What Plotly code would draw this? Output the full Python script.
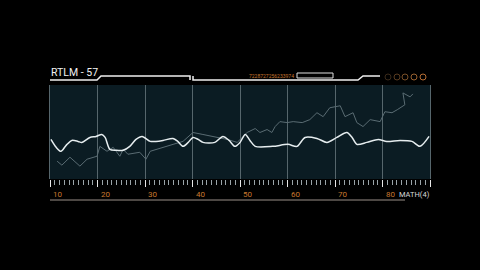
import plotly.graph_objects as go

# ---- data ----
main_x = [10.2, 11.3, 12.3, 13.4, 14.6, 15.9, 16.7, 18.4, 19.7, 20.9, 21.6, 22.6, 23.9, 25.4,
          26.8, 28.1, 29.4, 31.1, 32.3, 33.8, 35.9, 36.9, 38.0, 39.1, 40.1, 41.2, 42.2, 44.7,
          46.4, 47.7, 48.9, 50.0, 51.1, 52.1, 53.2, 56.9, 60.1, 62.0, 63.7, 66.2, 68.3, 70.4,
          72.5, 73.6, 74.6, 76.7, 79.1, 80.9, 83.7, 86.2, 87.9, 89.8]
main_y = [40, 32, 28, 34, 39, 38, 37, 42, 43, 45, 42, 30, 29, 29,
          33, 40, 43, 38, 38, 39, 41, 38, 33, 37, 42, 40, 37, 37,
          43, 39, 33, 37, 45, 39, 33, 33, 35, 33, 42, 41, 37, 42,
          47, 42, 35, 37, 40, 38, 39, 38, 33, 43]

trace_x = [11.5, 12.5, 14.2, 15.3, 16.3, 17.8, 19.9, 20.5, 22.0, 23.3, 24.7, 25.4, 26.4, 28.9,
           30.2, 31.1, 33.6, 35.9, 38.0, 40.1, 42.2, 45.2, 47.3, 49.4, 51.5, 53.2, 54.2, 55.7,
           56.7, 57.4, 58.4, 59.9, 61.2, 63.1, 64.7, 66.2, 67.5, 68.9, 71.1, 72.1, 73.8, 74.6,
           75.9, 77.4, 79.5, 80.5, 82.0, 83.1, 84.7, 84.3, 85.8, 86.4]
trace_y = [18, 14, 22, 17, 13, 20, 23, 33, 28, 32, 23, 30, 25, 27,
           20, 28, 32, 35, 38, 47, 45, 42, 40, 37, 47, 51, 47, 50,
           47, 53, 58, 57, 58, 57, 60, 67, 63, 72, 74, 63, 67, 57,
           53, 60, 58, 68, 67, 70, 75, 87, 83, 86]

tick_vals = [10, 20, 30, 40, 50, 60, 70, 80]
tick_labels = ["10", "20", "30", "40", "50", "60", "70", "80"]
title_text = "RTLM - 57"
code_text = "7228727256233974"
unit_text = "MATH(4)"

# ---- geometry helpers (decoration only) ----
L, R, T, B = 50, 430, 85, 179
W, H = 480, 270
def px(xp):
    return (xp - L) / (R - L)
def py(yp):
    return (B - yp) / (B - T)

ORANGE = "#c8772e"
GRID = "#56666c"

fig = go.Figure()
fig.add_trace(go.Scatter(x=trace_x, y=trace_y, mode="lines",
                         line=dict(color="#5a6c73", width=1), hoverinfo="skip"))
fig.add_trace(go.Scatter(x=main_x, y=main_y, mode="lines",
                         line=dict(color="#e6edef", width=1.5, shape="spline", smoothing=0.8),
                         hoverinfo="skip"))

shapes = []
hdr = dict(type="path", xref="paper", yref="paper", line=dict(color="#f0f0f0", width=1.5))
pathA = "M {} {} L {} {} L {} {} L {} {} L {} {}".format(
    px(50), py(80), px(97), py(80), px(101), py(76), px(190), py(76), px(190), py(80))
pathB = "M {} {} L {} {} L {} {} L {} {} L {} {}".format(
    px(193), py(76), px(193), py(80), px(358), py(80), px(363), py(76), px(380), py(76))
shapes.append(dict(hdr, path=pathA))
shapes.append(dict(hdr, path=pathB))
shapes.append(dict(type="rect", xref="paper", yref="paper", x0=px(297), x1=px(333),
                   y0=py(78), y1=py(73), line=dict(color="#e0e0e0", width=1)))
circ_cols = ["#3a2a1a", "#5a3c20", "#7a5028", "#9a6230", "#b86e34"]
for i, cx in enumerate([388, 397, 405, 414, 423]):
    shapes.append(dict(type="circle", xref="paper", yref="paper",
                       x0=px(cx - 3), x1=px(cx + 3), y0=py(80), y1=py(74),
                       line=dict(color=circ_cols[i], width=1)))
shapes.append(dict(type="line", xref="paper", yref="paper", x0=px(50), x1=px(405),
                   y0=py(200), y1=py(200), line=dict(color="#9a8f88", width=1)))

annotations = [
    dict(text=title_text, xref="paper", yref="paper", x=px(49), y=py(72), xanchor="left",
         yanchor="middle", showarrow=False, font=dict(family="Roboto", size=10.5, color="#f2f2f2")),
    dict(text=code_text, xref="paper", yref="paper", x=px(247), y=py(75.5), xanchor="left",
         yanchor="middle", showarrow=False, font=dict(family="Roboto", size=5, color=ORANGE)),
    dict(text=unit_text, xref="paper", yref="paper", x=px(432), y=py(194), xanchor="right",
         yanchor="middle", showarrow=False, font=dict(family="Roboto", size=7.5, color="#d8d8d8")),
]
for v, t in zip(tick_vals, tick_labels):
    annotations.append(dict(text=t, x=v, xref="x", yref="paper", y=py(194), xanchor="left",
                            yanchor="middle", xshift=1, showarrow=False,
                            font=dict(family="Roboto", size=8, color=ORANGE)))

fig.update_layout(
    width=W, height=H,
    margin=dict(l=L, r=W - R, t=T, b=H - B),
    paper_bgcolor="#000000", plot_bgcolor="#0b1c23",
    showlegend=False,
    shapes=shapes, annotations=annotations,
    xaxis=dict(range=[10, 90], dtick=10, tick0=10, showgrid=True, gridcolor=GRID, gridwidth=1,
               zeroline=False, showticklabels=False, ticks="outside", ticklen=7,
               tickcolor="#e8e8e8", tickwidth=1,
               minor=dict(dtick=1, ticks="outside", ticklen=5, tickcolor="#9aa4a8", tickwidth=1,
                          showgrid=False),
               showline=False),
    yaxis=dict(range=[0, 95], showgrid=False, zeroline=False, showticklabels=False,
               showline=True, mirror=True, linecolor=GRID, linewidth=1, ticks=""),
)

fig.write_html("out.html")
